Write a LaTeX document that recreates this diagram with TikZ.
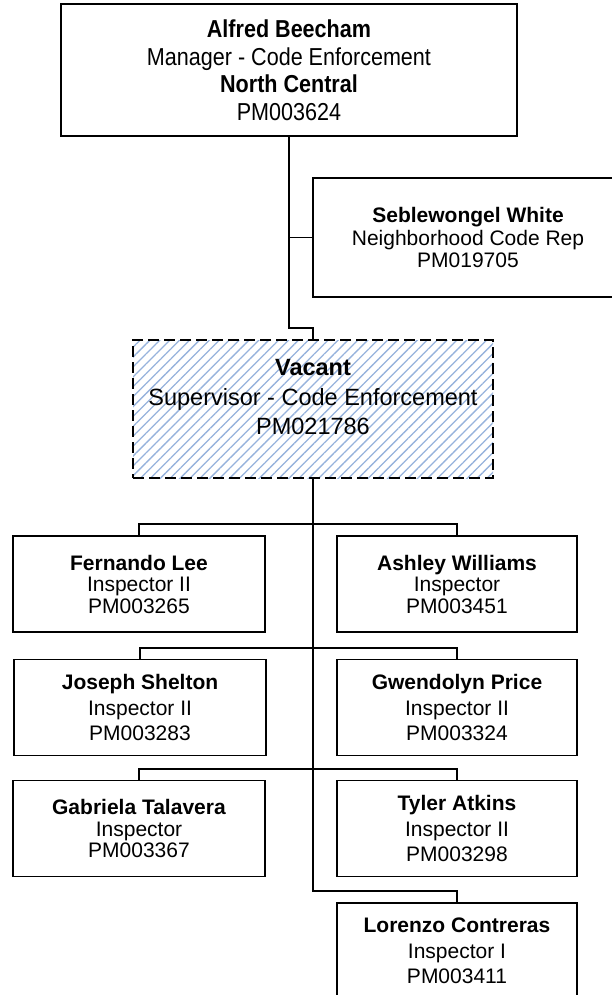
\documentclass[tikz,border=0pt]{standalone}
\usepackage{fontspec}
\setmainfont{Liberation Sans}
\newfontfamily\narrowsans[FakeStretch=0.88]{Liberation Sans}
\usepackage{tikz}
\usetikzlibrary{patterns.meta}
\definecolor{hatchblue}{RGB}{150,178,220}
\tikzset{box/.style={draw,line width=1.7pt,align=center,inner sep=0pt}}
\tikzset{wire/.style={line width=1.7pt}}
\tikzset{staff/.style={box,minimum height=96pt,font=\fontsize{21}{21.5}\selectfont}}
\tikzset{roomy/.style={font=\fontsize{21}{25.5}\selectfont}}
\tikzset{lcol/.style={minimum width=252pt}}
\tikzset{rcol/.style={minimum width=240pt}}
\tikzset{vacbox/.style={box,dash pattern=on 11pt off 5pt,pattern={Lines[angle=45,distance=7pt,line width=1.3pt]},pattern color=hatchblue}}

\begin{document}
\begin{tikzpicture}[x=1pt,y=-1pt]
\useasboundingbox (0,0) rectangle (611,995);

\node [box,minimum width=456pt,minimum height=132pt,font=\narrowsans\fontsize{24.5}{27.5}\selectfont] (mgr) at (289,70) {\textbf{Alfred Beecham}\\Manager - Code Enforcement\\\textbf{North Central}\\PM003624};
\node [box,minimum width=310pt,minimum height=119pt,font=\fontsize{21}{22.5}\selectfont] (rep) at (468,237.5) {\textbf{Seblewongel White}\\Neighborhood Code Rep\\PM019705};

\node [vacbox,minimum width=360pt,minimum height=138pt] (vac) at (313,409) {};
\node [align=center,font=\fontsize{23.5}{29.5}\selectfont] (vactext) at (313,397.5) {\textbf{Vacant}\\Supervisor - Code Enforcement\\PM021786};

\node [staff,lcol] (fer) at (139,584) {\textbf{Fernando Lee}\\Inspector II\\PM003265};
\node [staff,rcol] (ash) at (457,584) {\textbf{Ashley Williams}\\Inspector\\PM003451};
\node [staff,lcol,roomy] (jos) at (140,707.5) {\textbf{Joseph Shelton}\\Inspector II\\PM003283};
\node [staff,rcol,roomy] (gwe) at (457,707.5) {\textbf{Gwendolyn Price}\\Inspector II\\PM003324};
\node [staff,lcol] (gab) at (139,828.5) {\textbf{Gabriela Talavera}\\Inspector\\PM003367};
\node [staff,rcol,roomy] (tyl) at (457,828.5) {\textbf{Tyler Atkins}\\Inspector II\\PM003298};
\node [staff,rcol,roomy] (lor) at (457,951) {\textbf{Lorenzo Contreras}\\Inspector I\\PM003411};

\coordinate (jog) at (313,328);
\coordinate (turn) at (457,891);

\draw [wire] (mgr.south) |- (jog) -| (vac.north);
\draw [wire] (rep.west) -- (rep.west -| mgr.south);
\draw [wire] (vac.south) |- (turn) -| (lor.north);
\foreach \a/\b in {fer/ash,jos/gwe,gab/tyl} {\draw [wire] (\a.north) -- ++(0,-11) -| (\b.north);}

\end{tikzpicture}
\end{document}
